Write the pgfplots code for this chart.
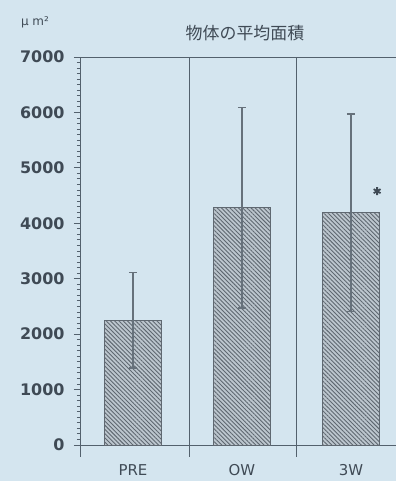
\documentclass[border=0pt]{standalone}
\usepackage{pgfplots}
\pgfplotsset{compat=1.18}
\usepackage{fontspec}
\setmainfont{DejaVu Sans}
\newfontfamily\cjk{Noto Sans CJK JP}
\usetikzlibrary{patterns.meta}
\definecolor{bg}{HTML}{D4E5EF}
\definecolor{axc}{HTML}{53616D}
\definecolor{txt}{HTML}{3F4A55}
\definecolor{barfill}{HTML}{BCC6CE}
\definecolor{hatch}{HTML}{5F6871}
\definecolor{errc}{HTML}{66717B}
\begin{document}
\begin{tikzpicture}
\useasboundingbox[fill=bg] (0,0) rectangle (396bp,481bp);
\node[txt,font=\cjk\fontsize{17}{17}\selectfont] at (245bp,448bp) {物体の平均面積};
\node[txt,font=\fontsize{12}{12}\selectfont] at (35bp,459bp) {μ m²};
\begin{axis}[
  at={(80bp,36bp)}, anchor=south west,
  scale only axis, width=320bp, height=388bp,
  xmin=-0.486, xmax=2.45, ymin=0, ymax=7000,
  axis lines*=left,
  axis line style={axc, line width=1pt},
  clip=false,
  xtick={0,1,2}, xticklabels={PRE,OW,3W},
  major x tick style={draw=none},
  ytick={0,1000,...,7000},
  minor y tick num=9,
  tick align=outside,
  major tick length=6bp, minor tick length=3bp,
  every tick/.style={axc, line width=0.9pt},
  /pgf/number format/assume math mode=true,
  /pgf/number format/1000 sep={},
  yticklabel style={txt, font=\bfseries\fontsize{16}{16}\selectfont, xshift=-6bp},
  xticklabel style={txt, font=\fontsize{15}{15}\selectfont, yshift=-10bp},
  ybar, bar width=0.52,
]
\addplot[draw=hatch, line width=0.7pt, fill=barfill,
  postaction={pattern={Lines[angle=-45,distance=3pt,line width=0.9pt]}, pattern color=hatch},
  error bars/.cd, y dir=both, y explicit,
  error bar style={errc, line width=1.2pt},
  error mark options={rotate=90, mark size=4bp, errc, line width=1.2pt}]
  coordinates {(0,2250) +- (0,860) (1,4280) +- (0,1810) (2,4190) +- (0,1780)};
\addplot[only marks, mark=asterisk, mark size=4bp, txt, line width=1.8pt, forget plot]
  coordinates {(2.24,4580)};
\draw[axc, line width=1pt] (axis cs:-0.486,7000) -- (axis cs:2.45,7000);
\draw[axc, line width=1pt] (axis cs:0.52,7000) -- (axis cs:0.52,0) -- ++(0bp,-12bp);
\draw[axc, line width=1pt] (axis cs:1.5,7000) -- (axis cs:1.5,0) -- ++(0bp,-12bp);
\draw[axc, line width=1pt] (axis cs:-0.486,0) -- ++(0bp,-12bp);
\end{axis}
\end{tikzpicture}
\end{document}
